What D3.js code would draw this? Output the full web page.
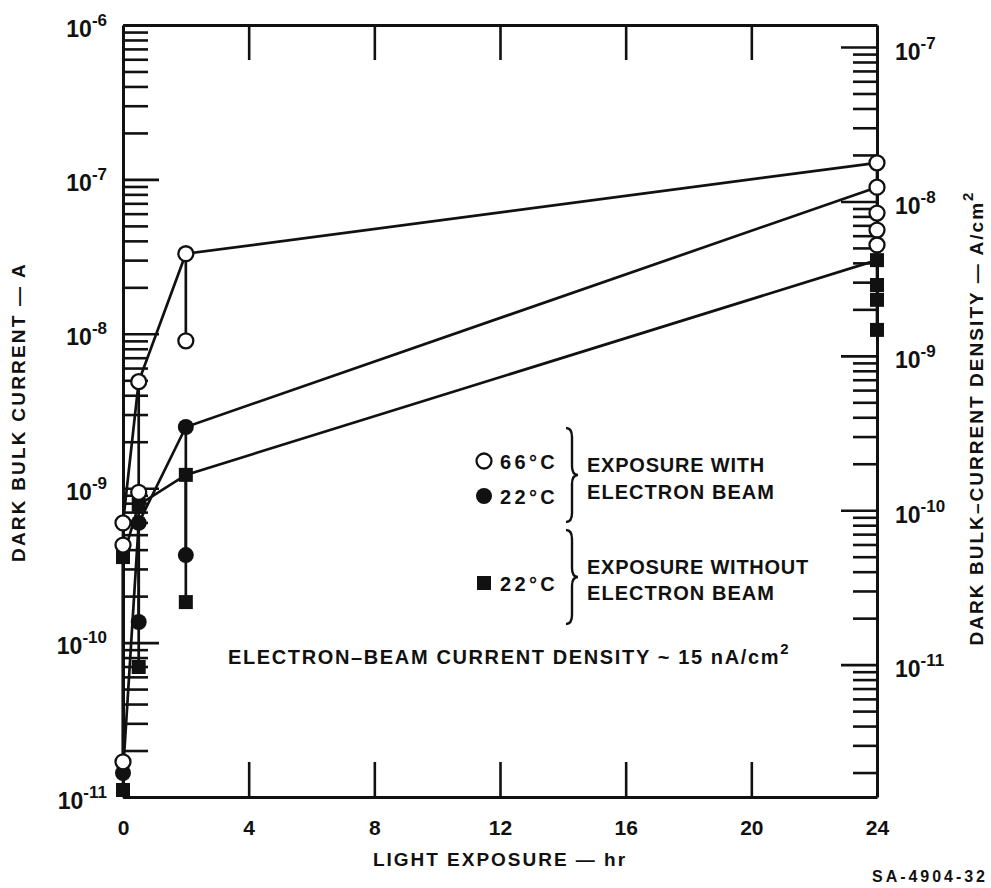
<!DOCTYPE html>
<html><head><meta charset="utf-8">
<script src="https://cdn.jsdelivr.net/npm/d3@7"></script>
<style>
body{margin:0;background:#fff}
svg{display:block;background:#fff}
text{font-family:"Liberation Sans",Arial,Helvetica,sans-serif;fill:#111}
</style>
</head><body>
<svg id="c" width="991" height="888"></svg>
<script>
// ---------------- data ----------------
const times = [0, 0.5, 2, 24];                 // light exposure, hr
const xTickValues = [0, 4, 8, 12, 16, 20, 24];
const xInnerTicks = [4, 8, 12, 16, 20];
const leftDecades = [-11, -10, -9, -8, -7, -6];  // 10^n A
const rightDecades = [-11, -10, -9, -8, -7];     // 10^n A/cm^2
const electrodeArea = 7.2;                     // cm^2 (A -> A/cm^2)

// dark bulk current (A) measured at each exposure time; first value = value joined by the main curve
const open66 = [
  [5.96e-10, 4.28e-10, 1.69e-11],
  [4.9e-9, 9.4e-10],
  [3.3e-8, 9.0e-9],
  [1.28e-7, 8.9e-8, 6.05e-8, 4.7e-8, 3.76e-8]
];
const filled22 = [
  [1.43e-11],
  [5.96e-10, 1.36e-10],
  [2.49e-9, 3.69e-10],
  [8.9e-8]
];
const square22 = [
  [3.58e-10, 1.11e-11],
  [7.8e-10, 6.95e-11],
  [1.22e-9, 1.83e-10],
  [3.0e-8, 2.07e-8, 1.66e-8, 1.06e-8]
];

// ---------------- layout ----------------
const svg = d3.select("#c");
const INK = "#111";
const x = d3.scaleLinear().domain([0, 24]).range([123, 877]);
const y = d3.scaleLog().domain([1e-11, 1e-6]).range([797, 25]);
const yR = d3.scaleLog().domain([1e-11 / electrodeArea, 1e-6 / electrodeArea]).range([797, 25]);
const isDecade = v => Math.abs(Math.log10(v) - Math.round(Math.log10(v))) < 1e-6;

function styleAxis(g) {
  g.attr("font-family", null).attr("font-size", null);
  g.selectAll(".domain").attr("stroke", INK).attr("stroke-width", 3);
  g.selectAll(".tick line").attr("stroke", INK).attr("stroke-width", 2.6);
}
function fitWidth(sel, w) {
  const node = sel.node();
  const n = node.getNumberOfChars();
  const cur = node.getComputedTextLength();
  sel.attr("letter-spacing", ((w - cur) / n).toFixed(2));
}
function powerLabels(g, yOff) {
  g.selectAll(".tick text").attr("dy", null).attr("y", yOff).attr("font-weight", "bold").attr("fill", INK)
    .text("").each(function (d) {
      const t = d3.select(this);
      t.append("tspan").attr("font-size", 23).text("10");
      t.append("tspan").attr("font-size", 17).attr("dy", -11).text(String(Math.round(Math.log10(d))));
    });
}

// left axis (ticks inside)
const gL = svg.append("g").attr("transform", `translate(${x(0)},0)`)
  .call(d3.axisRight(y).tickValues(y.ticks()).tickSize(25).tickSizeOuter(0).tickFormat(""));
gL.selectAll(".tick line").attr("x2", d => isDecade(d) ? 36 : 25);
styleAxis(gL);
const gLL = svg.append("g").attr("transform", `translate(${x(0)},0)`)
  .call(d3.axisLeft(y).tickValues(leftDecades.map(e => Math.pow(10, e))).tickSize(0).tickPadding(16));
gLL.select(".domain").remove();
styleAxis(gLL);
powerLabels(gLL, 11);

// right axis (ticks inside)
const gR = svg.append("g").attr("transform", `translate(${x(24)},0)`)
  .call(d3.axisLeft(yR).tickValues(yR.ticks()).tickSize(24).tickSizeOuter(0).tickFormat(""));
gR.selectAll(".tick line").attr("x2", d => isDecade(d) ? -36 : -24);
styleAxis(gR);
const gRL = svg.append("g").attr("transform", `translate(${x(24)},0)`)
  .call(d3.axisRight(yR).tickValues(rightDecades.map(e => Math.pow(10, e))).tickSize(0).tickPadding(18));
gRL.select(".domain").remove();
styleAxis(gRL);
powerLabels(gRL, 12);

// bottom and top axes
const gB = svg.append("g").attr("transform", `translate(0,${y(1e-11)})`)
  .call(d3.axisTop(x).tickValues(xInnerTicks).tickSize(35).tickSizeOuter(0).tickFormat(""));
styleAxis(gB);
const gT = svg.append("g").attr("transform", `translate(0,${y(1e-6)})`)
  .call(d3.axisBottom(x).tickValues(xInnerTicks).tickSize(35).tickSizeOuter(0).tickFormat(""));
styleAxis(gT);
const gBL = svg.append("g").attr("transform", `translate(0,${y(1e-11)})`)
  .call(d3.axisBottom(x).tickValues(xTickValues).tickSize(0).tickPadding(23).tickFormat(d3.format("d")));
gBL.select(".domain").remove();
styleAxis(gBL);
gBL.selectAll(".tick text").attr("font-size", 21).attr("font-weight", "bold").attr("fill", INK);

// ---------------- series ----------------
const series = [
  { values: square22, marker: "square" },
  { values: filled22, marker: "filled" },
  { values: open66, marker: "open" }
];
const line = d3.line().x(d => x(d[0])).y(d => y(d[1]));
const gLines = svg.append("g").attr("fill", "none").attr("stroke", INK).attr("stroke-width", 2.7);
series.forEach(s => {
  gLines.append("path").attr("d", line(times.map((t, i) => [t, s.values[i][0]])));
  times.forEach((t, i) => {
    if (s.values[i].length > 1)
      gLines.append("path").attr("d", line([[t, d3.max(s.values[i])], [t, d3.min(s.values[i])]]));
  });
});
series.forEach(s => {
  const pts = [];
  times.forEach((t, i) => s.values[i].forEach(v => pts.push([t, v])));
  const g = svg.append("g");
  if (s.marker === "square") {
    g.selectAll("rect").data(pts).join("rect")
      .attr("x", d => x(d[0]) - 7).attr("y", d => y(d[1]) - 7)
      .attr("width", 14).attr("height", 14).attr("fill", INK);
  } else if (s.marker === "filled") {
    g.selectAll("circle").data(pts).join("circle")
      .attr("cx", d => x(d[0])).attr("cy", d => y(d[1])).attr("r", 8).attr("fill", INK);
  } else {
    g.selectAll("circle").data(pts).join("circle")
      .attr("cx", d => x(d[0])).attr("cy", d => y(d[1])).attr("r", 7.5)
      .attr("fill", "#fff").attr("stroke", INK).attr("stroke-width", 2.3);
  }
});

// ---------------- legend ----------------
const lg = svg.append("g");
lg.append("circle").attr("cx", 484).attr("cy", 461).attr("r", 7.5).attr("fill", "#fff").attr("stroke", INK).attr("stroke-width", 2.3);
lg.append("circle").attr("cx", 484).attr("cy", 496).attr("r", 8).attr("fill", INK);
lg.append("rect").attr("x", 477).attr("y", 576).attr("width", 14).attr("height", 14).attr("fill", INK);
function legText(txt, xx, yy, w) {
  const t = lg.append("text").attr("x", xx).attr("y", yy).attr("font-size", 20).attr("font-weight", "bold").text(txt);
  if (w) fitWidth(t, w);
  return t;
}
legText("66°C", 500, 469, 58);
legText("22°C", 500, 504, 58);
legText("22°C", 500, 591, 58);
legText("EXPOSURE WITH", 587, 472, 178);
legText("ELECTRON BEAM", 587, 499, 188);
legText("EXPOSURE WITHOUT", 587, 574, 222);
legText("ELECTRON BEAM", 587, 600, 188);
function brace(x0, y0, y1) {
  const ym = (y0 + y1) / 2;
  return `M${x0 - 6},${y0} Q${x0},${y0} ${x0},${y0 + 9} L${x0},${ym - 9} Q${x0},${ym} ${x0 + 6},${ym} ` +
         `Q${x0},${ym} ${x0},${ym + 9} L${x0},${y1 - 9} Q${x0},${y1} ${x0 - 6},${y1}`;
}
lg.append("path").attr("d", brace(572, 428, 522)).attr("fill", "none").attr("stroke", INK).attr("stroke-width", 2.4);
lg.append("path").attr("d", brace(572, 530, 624)).attr("fill", "none").attr("stroke", INK).attr("stroke-width", 2.4);

// note
const note = svg.append("text").attr("x", 228).attr("y", 664).attr("font-size", 20).attr("font-weight", "bold");
note.append("tspan").text("ELECTRON–BEAM CURRENT DENSITY ~ 15 nA/cm");
note.append("tspan").attr("font-size", 15).attr("dy", -10).text("2");
fitWidth(note, 562);

// ---------------- axis titles ----------------
const tl = svg.append("text").attr("transform", "translate(25,412) rotate(-90)")
  .attr("text-anchor", "middle").attr("font-size", 19).attr("font-weight", "bold")
  .text("DARK BULK CURRENT — A");
fitWidth(tl, 300);
const tr = svg.append("text").attr("transform", "translate(983,418) rotate(-90)")
  .attr("text-anchor", "middle").attr("font-size", 19).attr("font-weight", "bold");
tr.append("tspan").text("DARK BULK–CURRENT DENSITY — A/cm");
tr.append("tspan").attr("font-size", 15).attr("dy", -10).text("2");
fitWidth(tr, 455);
const tb = svg.append("text").attr("x", 500).attr("y", 866).attr("text-anchor", "middle")
  .attr("font-size", 19).attr("font-weight", "bold").text("LIGHT EXPOSURE — hr");
fitWidth(tb, 254);
const sa = svg.append("text").attr("x", 872).attr("y", 882).attr("font-size", 16).attr("font-weight", "bold")
  .text("SA-4904-32");
fitWidth(sa, 116);
</script>
</body></html>
